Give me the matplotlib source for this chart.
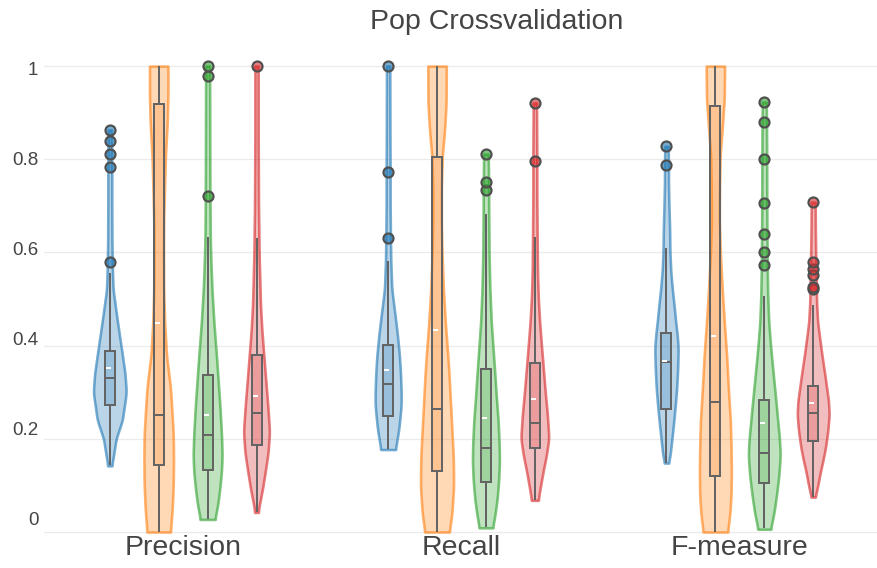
import numpy as np
import matplotlib
matplotlib.use('Agg')
from matplotlib import pyplot as plt
from matplotlib import transforms as mtrans
from matplotlib.patches import Rectangle
from matplotlib.colors import to_rgba

categories = ['Precision', 'Recall', 'F-measure']

# box stats per category, one row per series:
# (lower whisker, q1, median, q3, upper whisker, mean)
precision_stats = [(0.144, 0.272, 0.330, 0.389, 0.555, 0.351),
                   (0.000, 0.144, 0.252, 0.918, 1.000, 0.448),
                   (0.029, 0.133, 0.208, 0.337, 0.634, 0.251),
                   (0.044, 0.187, 0.255, 0.380, 0.632, 0.292)]
recall_stats = [(0.178, 0.250, 0.317, 0.401, 0.582, 0.348),
                (0.000, 0.131, 0.264, 0.805, 1.000, 0.433),
                (0.011, 0.108, 0.180, 0.350, 0.682, 0.244),
                (0.069, 0.181, 0.235, 0.362, 0.634, 0.285)]
fmeasure_stats = [(0.149, 0.264, 0.364, 0.428, 0.610, 0.366),
                  (0.000, 0.121, 0.280, 0.915, 1.000, 0.421),
                  (0.008, 0.106, 0.169, 0.283, 0.507, 0.233),
                  (0.076, 0.195, 0.255, 0.314, 0.487, 0.277)]

precision_outliers = [[0.580, 0.783, 0.811, 0.839, 0.863], [], [0.722, 0.979, 1.0], [1.0]]
recall_outliers = [[0.632, 0.772, 1.0], [], [0.734, 0.752, 0.811], [0.796, 0.921]]
fmeasure_outliers = [[0.788, 0.828], [],
                     [0.574, 0.600, 0.639, 0.707, 0.800, 0.881, 0.923],
                     [0.521, 0.526, 0.551, 0.564, 0.579, 0.708]]

# violin outlines: (values, relative density)
precision_profiles = [
    ([0.142, 0.17, 0.20, 0.24, 0.30, 0.34, 0.38, 0.45, 0.52, 0.56, 0.62, 0.70, 0.78, 0.863],
     [0.12, 0.25, 0.38, 0.76, 1.0, 0.92, 0.76, 0.47, 0.2, 0.16, 0.13, 0.12, 0.12, 0.1]),
    ([0.0, 0.05, 0.10, 0.16, 0.21, 0.26, 0.31, 0.38, 0.45, 0.52, 0.60, 0.67, 0.75, 0.81, 0.88, 0.94, 1.0],
     [0.71, 0.82, 0.88, 0.9, 0.88, 0.8, 0.71, 0.47, 0.36, 0.3, 0.29, 0.3, 0.36, 0.41, 0.52, 0.56, 0.56]),
    ([0.027, 0.06, 0.094, 0.13, 0.165, 0.21, 0.273, 0.33, 0.38, 0.45, 0.523, 0.58, 0.63, 0.72, 0.85, 1.0],
     [0.44, 0.62, 0.74, 0.84, 0.88, 0.84, 0.74, 0.63, 0.53, 0.38, 0.26, 0.2, 0.16, 0.14, 0.13, 0.12]),
    ([0.042, 0.06, 0.09, 0.13, 0.17, 0.215, 0.273, 0.33, 0.38, 0.43, 0.487, 0.594, 0.7, 0.85, 1.0],
     [0.1, 0.18, 0.35, 0.53, 0.7, 0.79, 0.68, 0.55, 0.44, 0.33, 0.24, 0.16, 0.12, 0.1, 0.1]),
]
recall_profiles = [
    ([0.177, 0.2, 0.222, 0.25, 0.273, 0.30, 0.34, 0.38, 0.42, 0.451, 0.49, 0.523, 0.582, 0.632, 0.7, 0.772, 0.85, 1.0],
     [0.44, 0.55, 0.65, 0.73, 0.79, 0.79, 0.75, 0.68, 0.57, 0.47, 0.33, 0.22, 0.16, 0.14, 0.12, 0.12, 0.11, 0.1]),
    ([0.0, 0.04, 0.094, 0.13, 0.165, 0.22, 0.273, 0.33, 0.38, 0.45, 0.523, 0.6, 0.666, 0.738, 0.809, 0.86, 0.92, 1.0],
     [0.74, 0.9, 1.0, 1.0, 0.98, 0.9, 0.82, 0.74, 0.65, 0.5, 0.38, 0.3, 0.26, 0.26, 0.32, 0.45, 0.55, 0.56]),
    ([0.009, 0.04, 0.072, 0.11, 0.151, 0.19, 0.237, 0.29, 0.344, 0.4, 0.451, 0.52, 0.594, 0.68, 0.75, 0.811],
     [0.41, 0.56, 0.68, 0.77, 0.82, 0.8, 0.74, 0.63, 0.53, 0.42, 0.32, 0.24, 0.19, 0.17, 0.16, 0.14]),
    ([0.068, 0.1, 0.13, 0.165, 0.201, 0.251, 0.3, 0.344, 0.4, 0.451, 0.5, 0.559, 0.634, 0.72, 0.796, 0.86, 0.921],
     [0.2, 0.35, 0.5, 0.7, 0.85, 0.76, 0.63, 0.53, 0.4, 0.29, 0.21, 0.16, 0.14, 0.12, 0.12, 0.11, 0.1]),
]
fmeasure_profiles = [
    ([0.148, 0.165, 0.2, 0.237, 0.27, 0.309, 0.35, 0.394, 0.42, 0.451, 0.49, 0.523, 0.56, 0.6, 0.652, 0.7, 0.75, 0.788, 0.828],
     [0.12, 0.22, 0.33, 0.44, 0.53, 0.62, 0.68, 0.71, 0.66, 0.56, 0.45, 0.35, 0.26, 0.21, 0.19, 0.15, 0.12, 0.12, 0.1]),
    ([0.0, 0.04, 0.08, 0.13, 0.18, 0.237, 0.3, 0.38, 0.45, 0.523, 0.6, 0.666, 0.74, 0.809, 0.87, 0.93, 1.0],
     [0.74, 0.88, 0.95, 0.97, 0.95, 0.91, 0.8, 0.68, 0.54, 0.41, 0.3, 0.24, 0.25, 0.29, 0.42, 0.54, 0.56]),
    ([0.006, 0.04, 0.079, 0.12, 0.165, 0.2, 0.237, 0.29, 0.344, 0.4, 0.451, 0.507, 0.57, 0.65, 0.75, 0.85, 0.923],
     [0.38, 0.58, 0.74, 0.88, 0.97, 0.92, 0.82, 0.68, 0.53, 0.38, 0.27, 0.21, 0.18, 0.16, 0.15, 0.14, 0.12]),
    ([0.075, 0.1, 0.13, 0.155, 0.18, 0.215, 0.251, 0.28, 0.309, 0.344, 0.38, 0.42, 0.451, 0.49, 0.523, 0.56, 0.6, 0.65, 0.708],
     [0.12, 0.28, 0.44, 0.6, 0.74, 0.88, 0.97, 0.93, 0.82, 0.68, 0.53, 0.38, 0.27, 0.21, 0.19, 0.18, 0.15, 0.13, 0.12]),
]

yticks = [0, 0.2, 0.4, 0.6, 0.8, 1]
yticklabels = ['0', '0.2', '0.4', '0.6', '0.8', '1']

colors = ['#1f77b4', '#ff7f0e', '#2ca02c', '#d62728']
textcolor = '#444444'
boxcolor = '#646464'
px = 0.72  # one pixel in points at dpi 100

plt.rcParams['font.family'] = ['Liberation Sans', 'DejaVu Sans']

fig = plt.figure(figsize=(8.77, 5.68), dpi=100)
W, H = 877, 568
ax = fig.add_axes([44 / W, 31 / H, 835 / W, 497 / H])
ax.set_xlim(-0.5, 2.5)
ax.set_ylim(-0.0107, 1.056)

xpix = 3 / 835.0            # one pixel in x data units
spacing = 0.1757
halfmax = 16.5 * xpix
boxhalf = 5 * xpix


def smooth(vals, n=9):
    k = np.ones(n) / n
    padded = np.concatenate([np.full(n // 2, vals[0]), vals, np.full(n // 2, vals[-1])])
    return np.convolve(padded, k, mode='valid')


def draw_violin(pos, profile, stats, outliers, color):
    vals, dens = profile
    grid = np.linspace(vals[0], vals[-1], 300)
    half = smooth(np.interp(grid, vals, dens)) * halfmax
    ax.fill_betweenx(grid, pos - half, pos + half, facecolor=to_rgba(color, 0.3),
                     edgecolor=to_rgba(color, 0.6), linewidth=2.6 * px, zorder=2)
    lo, q1, med, q3, hi, mean = stats
    ax.plot([pos, pos], [lo, q1], color=boxcolor, lw=2 * px, zorder=3, solid_capstyle='butt')
    ax.plot([pos, pos], [q3, hi], color=boxcolor, lw=2 * px, zorder=3, solid_capstyle='butt')
    ax.add_patch(Rectangle((pos - boxhalf, q1), 2 * boxhalf, q3 - q1, facecolor=to_rgba(color, 0.22),
                           edgecolor=boxcolor, linewidth=2 * px, zorder=3))
    ax.plot([pos - boxhalf, pos + boxhalf], [med, med], color=boxcolor, lw=2 * px, zorder=4,
            solid_capstyle='butt')
    ax.plot([pos - 4 * xpix, pos + 1 * xpix], [mean, mean], color='white', lw=2 * px, zorder=5,
            solid_capstyle='butt')
    if outliers:
        ax.plot([pos] * len(outliers), outliers, 'o', ms=10 * px, mew=2.2 * px,
                mfc=to_rgba(color, 0.6), mec='#505050', zorder=6, linestyle='none')


all_stats = [precision_stats, recall_stats, fmeasure_stats]
all_outliers = [precision_outliers, recall_outliers, fmeasure_outliers]
all_profiles = [precision_profiles, recall_profiles, fmeasure_profiles]

for ci in range(len(categories)):
    for si in range(4):
        pos = ci + (si - 1.5) * spacing
        draw_violin(pos, all_profiles[ci][si], all_stats[ci][si], all_outliers[ci][si], colors[si])

ax.set_xticks(range(len(categories)))
ax.set_xticklabels(categories, fontsize=20.5, color=textcolor)
ax.set_yticks(yticks)
ax.set_yticklabels(yticklabels, fontsize=13.5, color=textcolor)
ax.tick_params(axis='both', length=0)
ax.tick_params(axis='y', pad=4)
ax.tick_params(axis='x', pad=-1.5)
ax.grid(axis='y', color='#ebebeb', linewidth=1.2 * px, zorder=0)
ax.set_axisbelow(True)
for s in ax.spines.values():
    s.set_visible(False)

# the y labels in the original sit a little off their gridlines
for v, lab in zip(yticks, ax.get_yticklabels()):
    off = mtrans.ScaledTranslation(0, (14 - 16 * v) / 100.0, fig.dpi_scale_trans)
    lab.set_transform(lab.get_transform() + off)

fig.text(497 / W, 1 - 22 / H, 'Pop Crossvalidation', fontsize=20.5, color=textcolor,
         ha='center', va='center')

fig.savefig('out.png', dpi=100)
